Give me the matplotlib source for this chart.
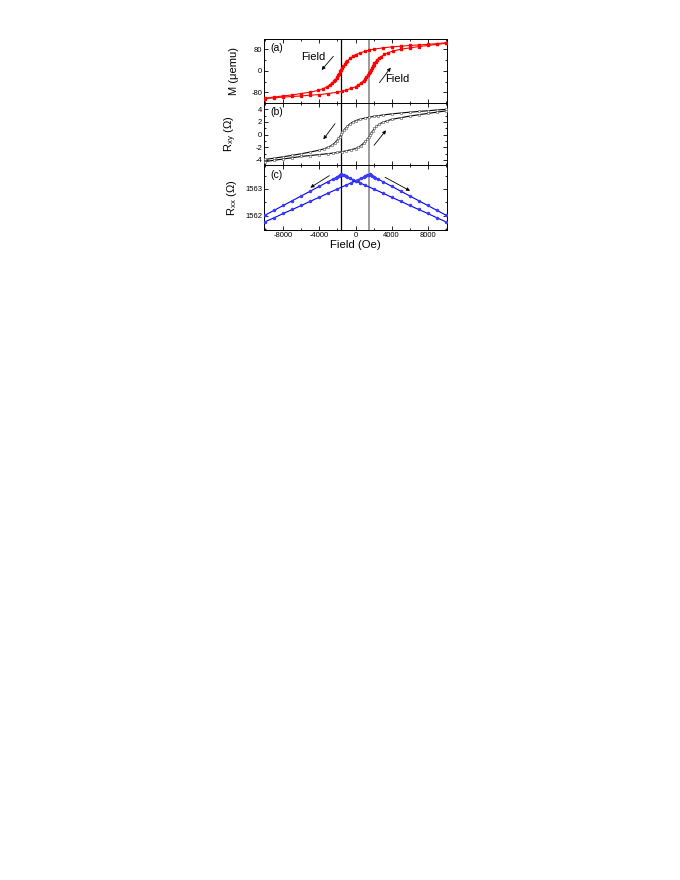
import numpy as np
import matplotlib as mpl

mpl.use("Agg")

import matplotlib.pyplot as plt
import matplotlib.ticker as ticker

plt.rcParams["font.family"] = ["Liberation Sans", "DejaVu Sans"]
plt.rcParams["axes.linewidth"] = 0.7
plt.rcParams["axes.unicode_minus"] = False
plt.rcParams["mathtext.fontset"] = "custom"
plt.rcParams["mathtext.rm"] = "Liberation Sans"
plt.rcParams["mathtext.it"] = "Liberation Sans"

# ================================
# data
# ================================
# (a) magnetization, sweep from +H to -H
H_a_down = [10000, 9000, 8000, 7000, 6000, 5000, 4000, 3000, 2000, 1500, 1000, 500, 0,
            -300, -600, -900, -1050, -1200, -1350, -1500, -1600, -1700, -1800, -1900,
            -2000, -2100, -2250, -2400, -2600, -2800, -3200, -3600, -4100, -5000,
            -6000, -7000, -8000, -9000, -10000]
M_a_down = [104, 101, 98, 96, 94, 91, 89, 85, 80, 77, 72, 66, 60,
            54, 46, 37, 31, 24, 17, 10, 4, -2, -10, -17,
            -22, -27, -33, -39, -45, -51, -60, -66, -72, -79,
            -84, -89, -93, -97, -101]
# (a) sweep from -H to +H
H_a_up = [-10000, -9000, -8000, -7000, -6000, -5000, -4000, -3000, -2000, -1500, -1000, -500, 0,
          300, 600, 900, 1050, 1200, 1350, 1500, 1600, 1700, 1800, 1900,
          2000, 2100, 2250, 2400, 2600, 2800, 3200, 3600, 4100, 5000,
          6000, 7000, 8000, 9000, 10000]
M_a_up = [-103, -100, -97, -95, -93, -90, -88, -84, -79, -76, -71, -65, -59,
          -53, -45, -36, -30, -23, -16, -9, -3, 3, 11, 18,
          23, 28, 34, 40, 46, 52, 61, 67, 73, 80,
          85, 90, 94, 98, 102]

# (b) Hall resistance
H_b_down = [10000, 9000, 8000, 7000, 6000, 5000, 4000, 3000, 2500, 2000, 1500, 1000,
            500, 0, -300, -600, -900, -1100, -1300, -1450, -1600, -1750,
            -1900, -2100, -2300, -2600, -3000, -3500, -4000, -5000, -6000, -7000,
            -8000, -9000, -10000]
R_b_down = [4.0, 3.9, 3.78, 3.66, 3.55, 3.42, 3.28, 3.1, 3.0, 2.88, 2.75, 2.6,
            2.42, 2.22, 2.0, 1.72, 1.35, 1.05, 0.7, 0.4, 0.05, -0.3,
            -0.6, -0.98, -1.3, -1.65, -1.98, -2.25, -2.45, -2.75, -3.02, -3.27,
            -3.5, -3.72, -3.92]
H_b_up = [-10000, -9000, -8000, -7000, -6000, -5000, -4000, -3000, -2500, -2000, -1500, -1000,
          -500, 0, 300, 600, 900, 1100, 1300, 1450, 1600, 1750,
          1900, 2100, 2300, 2600, 3000, 3500, 4000, 5000, 6000, 7000,
          8000, 9000, 10000]
R_b_up = [-4.25, -4.05, -3.85, -3.65, -3.45, -3.3, -3.15, -3.0, -2.92, -2.82, -2.7, -2.55,
          -2.38, -2.2, -2.0, -1.72, -1.35, -1.05, -0.7, -0.4, -0.05, 0.3,
          0.6, 0.98, 1.3, 1.62, 1.95, 2.2, 2.4, 2.68, 2.92, 3.15,
          3.35, 3.55, 3.75]

# (c) longitudinal resistance
H_c_down = [10000, 9000, 8000, 7000, 6000, 5000, 4000, 3000, 2000, 1000, 500, 0,
            -300, -600, -900, -1100, -1300, -1450, -1570, -1700, -1850, -2000,
            -2200, -2500, -3000, -4000, -5000, -6000, -7000, -8000, -9000, -10000]
R_c_down = [1561.77, 1561.92, 1562.08, 1562.23, 1562.38, 1562.54, 1562.69, 1562.85, 1563.00, 1563.15, 1563.23, 1563.30,
            1563.35, 1563.40, 1563.45, 1563.48, 1563.51, 1563.53, 1563.55, 1563.53, 1563.50, 1563.46,
            1563.42, 1563.37, 1563.28, 1563.10, 1562.92, 1562.74, 1562.56, 1562.38, 1562.20, 1562.02]
H_c_up = [-10000, -9000, -8000, -7000, -6000, -5000, -4000, -3000, -2000, -1000, -500, 0,
          300, 600, 900, 1100, 1300, 1450, 1570, 1700, 1850, 2000,
          2200, 2500, 3000, 4000, 5000, 6000, 7000, 8000, 9000, 10000]
R_c_up = [1561.77, 1561.92, 1562.08, 1562.23, 1562.38, 1562.54, 1562.69, 1562.85, 1563.00, 1563.15, 1563.23, 1563.30,
          1563.35, 1563.40, 1563.45, 1563.48, 1563.51, 1563.53, 1563.55, 1563.53, 1563.50, 1563.46,
          1563.42, 1563.37, 1563.28, 1563.10, 1562.92, 1562.74, 1562.56, 1562.38, 1562.20, 1562.02]

HC_LEFT = -1570
HC_RIGHT = 1530

x_ticks = [-8000, -4000, 0, 4000, 8000]

# ================================
# layout
# ================================
fig = plt.figure(figsize=(6.8, 8.8), dpi=100)
left, width = 264.3 / 680, 182.4 / 680
bounds = [(39, 102.7), (102.7, 165), (165, 230)]
axes = []
for top_px, bot_px in bounds:
    ax = fig.add_axes([left, 1 - bot_px / 880, width, (bot_px - top_px) / 880])
    axes.append(ax)
ax_a, ax_b, ax_c = axes

arrow_kw = dict(arrowstyle="-|>", color="black", lw=0.6, mutation_scale=5,
                shrinkA=0, shrinkB=0)

for ax in axes:
    ax.set_xlim(-10100, 10100)
    ax.xaxis.set_major_locator(ticker.FixedLocator(x_ticks))
    ax.xaxis.set_minor_locator(ticker.MultipleLocator(2000))
    ax.tick_params(which="both", direction="in", top=True, right=True, width=0.6,
                   labelsize=5.5, pad=1.5)
    ax.tick_params(which="major", length=3)
    ax.tick_params(which="minor", length=1.6)
    ax.axvline(HC_LEFT, color="black", lw=0.9, zorder=1)
    ax.axvline(HC_RIGHT, color="#808080", lw=1.1, zorder=1)

for ax in (ax_a, ax_b):
    ax.tick_params(axis="x", labelbottom=False)

# (a)
for h, m in ((H_a_down, M_a_down), (H_a_up, M_a_up)):
    ax_a.plot(h, m, color="red", lw=0.8, marker="s", ms=2.0, mec="red", mfc="red", zorder=3)
ax_a.set_ylim(-118, 118)
ax_a.yaxis.set_major_locator(ticker.FixedLocator([-80, 0, 80]))
ax_a.yaxis.set_minor_locator(ticker.MultipleLocator(40))
ax_a.set_ylabel("M (\u03bcemu)", fontsize=8)
ax_a.text(0.035, 0.93, "(a)", transform=ax_a.transAxes, fontsize=7.5, ha="left", va="top")
ax_a.annotate("", xy=(-3750, 3), xytext=(-2450, 54), arrowprops=arrow_kw)
ax_a.text(-4700, 50, "Field", fontsize=8, ha="center", va="center")
ax_a.annotate("", xy=(3900, 12), xytext=(2650, -44), arrowprops=arrow_kw)
ax_a.text(4600, -30, "Field", fontsize=8, ha="center", va="center")

# (b)
for h, r in ((H_b_down, R_b_down), (H_b_up, R_b_up)):
    ax_b.plot(h, r, color="black", lw=0.8, marker="o", ms=1.8, mec="#555555", mfc="white",
              mew=0.4, zorder=3)
ax_b.set_ylim(-4.8, 5.05)
ax_b.yaxis.set_major_locator(ticker.FixedLocator([-4, -2, 0, 2, 4]))
ax_b.yaxis.set_minor_locator(ticker.MultipleLocator(1))
ax_b.set_ylabel("R$_{xy}$ (\u03a9)", fontsize=8)
ax_b.text(0.035, 0.93, "(b)", transform=ax_b.transAxes, fontsize=7.5, ha="left", va="top")
ax_b.annotate("", xy=(-3560, -0.74), xytext=(-2270, 1.73), arrowprops=arrow_kw)
ax_b.annotate("", xy=(3380, 0.68), xytext=(2050, -1.69), arrowprops=arrow_kw)

# (c)
for h, r in ((H_c_down, R_c_down), (H_c_up, R_c_up)):
    ax_c.plot(h, r, color="blue", lw=0.8, marker="o", ms=1.5, mec="#3a3aff", mfc="#3a3aff",
              zorder=3)
ax_c.set_ylim(1561.46, 1563.9)
ax_c.yaxis.set_major_locator(ticker.FixedLocator([1562, 1563]))
ax_c.yaxis.set_minor_locator(ticker.MultipleLocator(0.5))
ax_c.yaxis.set_major_formatter(ticker.FormatStrFormatter("%d"))
ax_c.set_ylabel("R$_{xx}$ (\u03a9)", fontsize=8)
ax_c.text(0.035, 0.93, "(c)", transform=ax_c.transAxes, fontsize=7.5, ha="left", va="top")
ax_c.annotate("", xy=(-5000, 1563.05), xytext=(-2900, 1563.50), arrowprops=arrow_kw)
ax_c.annotate("", xy=(6040, 1562.93), xytext=(3270, 1563.44), arrowprops=arrow_kw)
ax_c.set_xlabel("Field (Oe)", fontsize=8.2, labelpad=1)

for ax in axes:
    ax.yaxis.set_label_coords(-0.14, 0.5)

fig.savefig("out.png", dpi=100)
plt.close(fig)
